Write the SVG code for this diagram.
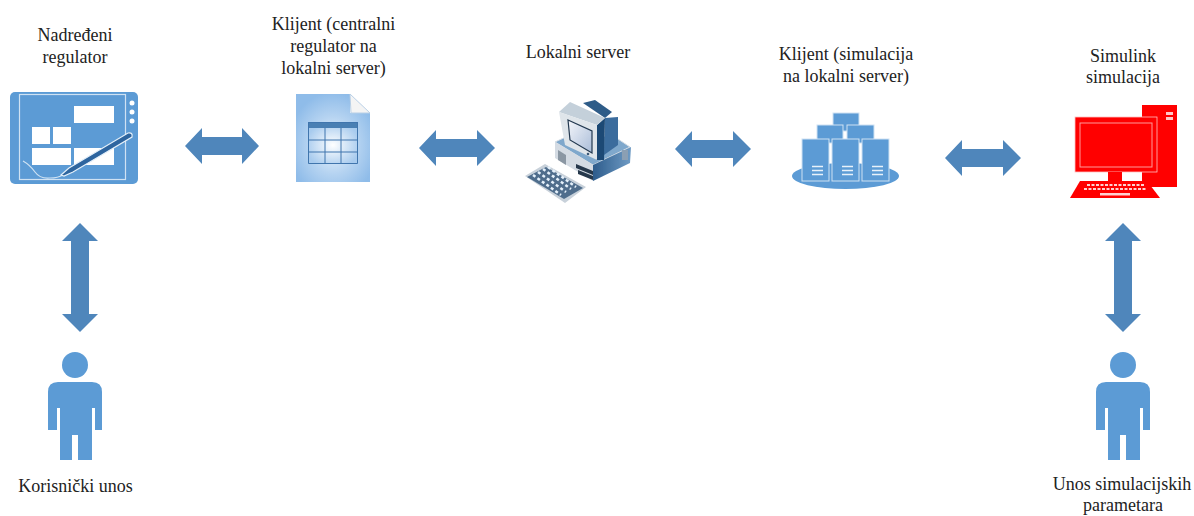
<svg xmlns="http://www.w3.org/2000/svg" width="1194" height="516" viewBox="0 0 1194 516">
<style>
text{font-family:"Liberation Serif","Times New Roman",serif;font-size:18px;fill:#222;text-anchor:middle}
.a{fill:#4f86bb}
.b{fill:#5b9bd5}
.w{fill:#fff}
.l{fill:none;stroke:#cfe2f3;stroke-width:1.2}
.t{fill:none;stroke:#3f75ad;stroke-width:1}
.s{filter:url(#soft)}
</style>
<defs>
<filter id="soft" x="-5%" y="-5%" width="110%" height="110%"><feGaussianBlur stdDeviation="0.5"/></filter>
<radialGradient id="doc" cx="50%" cy="58%" r="60%"><stop offset="0" stop-color="#eef6fd"/><stop offset="0.55" stop-color="#b5d3f1"/><stop offset="1" stop-color="#8fbce9"/></radialGradient>
<radialGradient id="tbl" cx="50%" cy="55%" r="55%"><stop offset="0" stop-color="#ffffff"/><stop offset="1" stop-color="#a8cbee"/></radialGradient>
<linearGradient id="pcb" x1="0" y1="0" x2="1" y2="0"><stop offset="0" stop-color="#6f9cc6"/><stop offset="0.5" stop-color="#3d6f9f"/><stop offset="1" stop-color="#28527c"/></linearGradient>
<linearGradient id="base" x1="0" y1="0" x2="1" y2="0"><stop offset="0" stop-color="#2d5c8c"/><stop offset="1" stop-color="#6f9bc4"/></linearGradient>
<linearGradient id="scr" x1="0" y1="0" x2="1" y2="1"><stop offset="0" stop-color="#f4f6fa"/><stop offset="1" stop-color="#a9bcd8"/></linearGradient>
<g id="person" class="b s"><circle cx="75" cy="365" r="13"/><path d="M58 382H92Q102 382 102 392V430H95V408H92V460H78V435H72V460H60V408H57V430H48V392Q48 382 58 382Z"/></g>
</defs>
<g id="connectors" class="s">
<polygon id="c1" class="a" points="185,146 202,128 202,137 242,137 242,128 259,146 242,164 242,155 202,155 202,164"/>
<polygon id="c2" class="a" points="419,148 436,130 436,139 477,139 477,130 495,148 477,166 477,157 436,157 436,166"/>
<polygon id="c3" class="a" points="675,149 692,131 692,140 733,140 733,131 751,149 733,167 733,158 692,158 692,167"/>
<polygon id="c4" class="a" points="945,158 962,140 962,149 1003,149 1003,140 1021,158 1003,176 1003,167 962,167 962,176"/>
<polygon id="c5" class="a" points="80,223 98,241 89,241 89,314 98,314 80,332 62,314 71,314 71,241 62,241"/>
<polygon id="c6" class="a" points="1123,223 1141,241 1132,241 1132,314 1141,314 1123,332 1105,314 1114,314 1114,241 1105,241"/>
</g>
<g id="node-regulator">
<g class="s">
<rect x="10" y="92" width="128" height="92" rx="5" class="b"/>
<rect x="19.500" y="94.500" width="106" height="85" class="l"/>
<rect x="74" y="106" width="40" height="17" class="w"/>
<rect x="32" y="127" width="18" height="17" class="w"/>
<rect x="53" y="127" width="18" height="17" class="w"/>
<rect x="32" y="148" width="39" height="17" class="w"/>
<rect x="74" y="148" width="40" height="17" class="w"/>
<circle cx="132" cy="103" r="2.500" class="w"/><circle cx="132" cy="112" r="2.500" class="w"/><circle cx="132" cy="121" r="2.500" class="w"/>
<path d="M23 161Q30 165 35 172T50 178Q58 178 63 175" class="l"/>
<path d="M61 175L69 168L128 133Q133 132 132 137L73 172L64 176Z" fill="#2d659f" stroke="#e4eff9" stroke-width="1.200"/>
</g>
<text x="75" y="41">Nadređeni</text><text x="75" y="62.500">regulator</text>
</g>
<g id="node-klijent1">
<g class="s">
<path d="M296 94H350V113H370V182H296Z" fill="url(#doc)"/>
<path d="M350 94L370 113H351Z" fill="#f4f4f4" stroke="#b8cfe6"/>
<rect x="308" y="122" width="50" height="42" fill="url(#tbl)"/>
<rect x="308" y="122" width="50" height="6" fill="#4a7fb3"/>
<path d="M308.500 122.500H357.500V163.500H308.500ZM308.500 140H357.500M308.500 152H357.500M325 128V164M341 128V164" class="t"/>
</g>
<text x="333.500" y="30">Klijent (centralni</text><text x="333.500" y="52">regulator na</text><text x="333.500" y="73.500">lokalni server)</text>
</g>
<g id="node-server">
<g class="s">
<polygon points="555,142 570,135 615,137 630,147 593,165" fill="#7fa8cc" stroke="#d6dde4"/>
<polygon points="555,142 593,165 593,181 555,158" fill="#d4dbe3"/>
<polygon points="593,165 631,147 630,163 593,181" fill="url(#base)"/>
<path d="M558 150L566 155V165L558 160Z" fill="#8b97a3"/>
<path d="M576 164L593 171V175L576 168ZM578 170L593 176V180L578 174Z" fill="#26384c"/>
<rect x="622" y="150" width="6" height="10" fill="#8b9fb3"/>
<polygon points="583,103 595,100 612,112 605,118" fill="#2f5b88"/>
<polygon points="605,118 618,117 618,145 604,155" fill="#3b6c9d"/>
<polygon points="596,126 605,118 604,160 596,160" fill="#1f4a75"/>
<polygon points="559,112 570,102 605,118 597,125" fill="#c4d0da"/>
<polygon points="559,112 597,125 597,160 565,145" fill="#dfe5ea"/>
<polygon points="568,120 592,131 592,153 570,140" fill="url(#scr)" stroke="#22384f" stroke-width="1.200"/>
<circle cx="588" cy="154" r="1.300" fill="#3b5a78"/>
<polygon points="525,176 545,164 586,187 565,203" fill="#c8d1da"/>
<polygon points="527,177 546,167 583,188 564,199" fill="#4f6d8c"/>
<path d="M533 175l28 20M538 172l28 20M543 169l28 20M548 167l28 20" stroke="#e6f1fb" stroke-width="2.500" stroke-dasharray="3 2.500" fill="none"/>
</g>
<text x="578" y="58">Lokalni server</text>
</g>
<g id="node-klijent2">
<g class="s">
<ellipse cx="845.500" cy="176" rx="53.500" ry="13" class="b"/>
<rect x="833" y="113" width="26" height="18" class="b" stroke="#cfe2f3"/>
<rect x="817" y="125" width="26" height="18" class="b" stroke="#cfe2f3"/>
<rect x="847" y="125" width="27" height="18" class="b" stroke="#cfe2f3"/>
<rect x="802" y="139" width="27" height="42" class="b" stroke="#cfe2f3"/>
<rect x="832" y="139" width="27" height="42" class="b" stroke="#cfe2f3"/>
<rect x="862" y="139" width="27" height="42" class="b" stroke="#cfe2f3"/>
<path d="M812 166.500h11M812 170.500h11M812 174.500h11M842 166.500h11M842 170.500h11M842 174.500h11M872 166.500h11M872 170.500h11M872 174.500h11" stroke="#e8f1fa" stroke-width="1.600"/>
</g>
<text x="846" y="60">Klijent (simulacija</text><text x="846" y="82">na lokalni server)</text>
</g>
<g id="node-simulink">
<g class="s" fill="#ff0000">
<rect x="1142" y="105" width="35" height="82"/>
<rect x="1166" y="112" width="7" height="3" fill="#ffc8c8"/><rect x="1166" y="117" width="7" height="3" fill="#ffc8c8"/>
<rect x="1075" y="117" width="82" height="55" stroke="#ffc0c0" stroke-width="0.800"/>
<rect x="1080" y="123" width="72" height="44" fill="none" stroke="#ff9a9a"/>
<rect x="1108" y="172" width="14" height="9"/>
<polygon points="1080,181 1147,181 1160,198 1070,198"/>
<path d="M1087 185h58M1084 189h62" stroke="#ffd0d0" stroke-width="2" stroke-dasharray="3 1.500"/>
<rect x="1100" y="193" width="30" height="2.500" fill="#ffd0d0"/>
</g>
<text x="1123" y="62">Simulink</text><text x="1123" y="83">simulacija</text>
</g>
<g id="node-korisnik"><use href="#person"/><text x="75.500" y="492">Korisnički unos</text></g>
<g id="node-unos"><use href="#person" x="1048"/><text x="1122" y="490">Unos simulacijskih</text><text x="1123" y="511">parametara</text></g>
</svg>
